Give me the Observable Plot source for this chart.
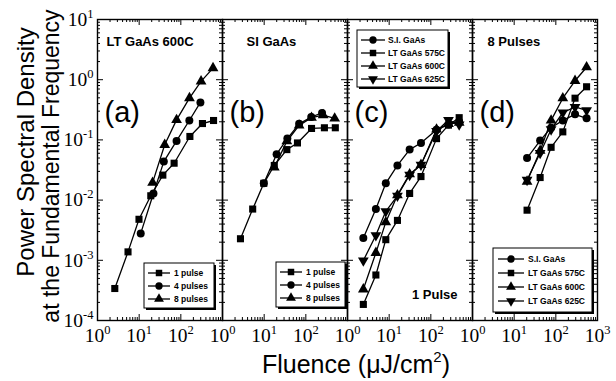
<!DOCTYPE html>
<html><head><meta charset="utf-8">
<script src="https://cdn.jsdelivr.net/npm/d3@7"></script>
<script src="https://cdn.jsdelivr.net/npm/@observablehq/plot@0.6"></script>
<style>
body{margin:0;background:#fff}
#chart{position:relative;width:616px;height:381px}
</style>
</head><body><div id="chart"></div>
<script>
// ---- data ----
const panels = ["a", "b", "c", "d"];
const panelLetters = ["(a)", "(b)", "(c)", "(d)"];
const panelTitles = ["LT GaAs 600C", "SI GaAs", "", "8 Pulses"];

// (a) LT GaAs 600C
const aX1 = [2.6, 5.4, 9.9, 19, 37, 69, 165, 330, 610];
const aY1 = [3.4e-4, 1.38e-3, 4.8e-3, 0.0118, 0.026, 0.041, 0.114, 0.187, 0.21];
const aX4 = [10.9, 22, 39, 79, 160, 295];
const aY4 = [2.8e-3, 0.0129, 0.0436, 0.096, 0.21, 0.42];
const aX8 = [21, 41, 79, 161, 306, 592];
const aY8 = [0.0195, 0.083, 0.215, 0.495, 0.94, 1.56];
// (b) SI GaAs
const bX1 = [2.7, 5.3, 9.8, 17.5, 35, 63, 137, 279, 510];
const bY1 = [2.28e-3, 7.1e-3, 0.019, 0.0376, 0.069, 0.089, 0.155, 0.159, 0.159];
const bX4 = [9.8, 19.9, 36, 69, 135, 245];
const bY4 = [0.019, 0.058, 0.105, 0.185, 0.24, 0.28];
const bX8 = [17.5, 35, 69, 137, 260, 492];
const bY8 = [0.035, 0.095, 0.174, 0.234, 0.259, 0.228];
// (c) 1 pulse
const cX = [2.4, 4.8, 8.3, 15.8, 31, 58, 137, 265, 479];
const cSI = [2.34e-3, 7.1e-3, 0.019, 0.0376, 0.069, 0.089, 0.147, 0.18, 0.2];
const c575 = [1.85e-4, 5.7e-4, 2.2e-3, 4.6e-3, 0.0129, 0.0246, 0.105, 0.176, 0.234];
const c600 = [3.3e-4, 1.33e-3, 4.3e-3, 0.0121, 0.027, 0.0386, 0.149, 0.185, 0.193];
const c625 = [9.9e-4, 2.6e-3, 6.5e-3, 0.0118, 0.0262, 0.0386, 0.14, 0.214, 0.18];
// (d) 8 pulses
const dX = [20.4, 42, 77, 147, 289, 547];
const dSI = [0.05, 0.0975, 0.159, 0.211, 0.266, 0.228];
const d575 = [6.8e-3, 0.0237, 0.0753, 0.136, 0.493, 0.763];
const d600 = [0.0203, 0.066, 0.211, 0.493, 0.96, 1.61];
const d625 = [0.0216, 0.0605, 0.149, 0.284, 0.352, 0.31];

const pulseSeries = ["1 pulse", "4 pulses", "8 pulses"];
const sampleSeries = ["S.I. GaAs", "LT GaAs 575C", "LT GaAs 600C", "LT GaAs 625C"];

const xTickVals = [1, 10, 100, 1000];
const xTickLabels = ["10^0", "10^1", "10^2", "10^3"];
const yTickVals = [1e-4, 1e-3, 1e-2, 1e-1, 1, 10];
const yTickLabels = ["10^-4", "10^-3", "10^-2", "10^-1", "10^0", "10^1"];

// ---- build tables ----
function series(panel, name, xs, ys) { return xs.map((x, i) => ({panel, series: name, x, y: ys[i]})); }
const rows = [
  ...series("a", pulseSeries[0], aX1, aY1), ...series("a", pulseSeries[1], aX4, aY4), ...series("a", pulseSeries[2], aX8, aY8),
  ...series("b", pulseSeries[0], bX1, bY1), ...series("b", pulseSeries[1], bX4, bY4), ...series("b", pulseSeries[2], bX8, bY8),
  ...series("c", sampleSeries[0], cX, cSI), ...series("c", sampleSeries[1], cX, c575), ...series("c", sampleSeries[2], cX, c600), ...series("c", sampleSeries[3], cX, c625),
  ...series("d", sampleSeries[0], dX, dSI), ...series("d", sampleSeries[1], dX, d575), ...series("d", sampleSeries[2], dX, d600), ...series("d", sampleSeries[3], dX, d625)
];
const down = {draw(ctx, size) {
  const s3 = Math.sqrt(3), y = -Math.sqrt(size / (s3 * 3));
  ctx.moveTo(0, -y * 2); ctx.lineTo(-s3 * y, y); ctx.lineTo(s3 * y, y); ctx.closePath();
}};
const symbolOf = {"1 pulse": "square", "4 pulses": "circle", "8 pulses": "triangle",
  "S.I. GaAs": "circle", "LT GaAs 575C": "square", "LT GaAs 600C": "triangle", "LT GaAs 625C": down};

const xLab = [];
panels.forEach(p => xTickVals.forEach((v, i) => { if (v < 1000 || p === "d") xLab.push({panel: p, v, label: xTickLabels[i]}); }));
const yLab = yTickVals.map((v, i) => ({panel: "a", v, label: yTickLabels[i]}));
const xMinor = [], yMinor = [];
[1, 10, 100].forEach(d => { for (let k = 2; k <= 9; k++) xMinor.push(d * k); });
[1e-4, 1e-3, 1e-2, 1e-1, 1].forEach(d => { for (let k = 2; k <= 9; k++) yMinor.push(d * k); });
const letterRows = panels.map((p, i) => ({panel: p, t: panelLetters[i]}));
const titleRows = panels.map((p, i) => ({panel: p, t: panelTitles[i]}));

const W = 616, H = 381, mL = 97, mR = 19, mT = 19, mB = 61;
const innerH = H - mT - mB, facetW = (W - mL - mR) / 4;
const sans = "'Liberation Sans', Arial, Helvetica, sans-serif";
const serif = "'Liberation Serif', 'Times New Roman', serif";

const dotMarks = ["square", "circle", "triangle", down].map(k =>
  Plot.dot(rows.filter(d => symbolOf[d.series] === k), {fx: "panel", x: "x", y: "y", symbol: k, r: 4, fill: "#000", stroke: "none"}));
const titleOffsets = {a: 9, b: 24, d: 15};
const titleMarks = Object.keys(titleOffsets).map(p =>
  Plot.text(titleRows.filter(d => d.panel === p), {fx: "panel", text: "t", frameAnchor: "top-left", dx: titleOffsets[p], dy: 26, lineAnchor: "bottom", textAnchor: "start", fontSize: 13, fontWeight: "bold"}));

const chart = Plot.plot({
  width: W, height: H, marginLeft: mL, marginRight: mR, marginTop: mT, marginBottom: mB,
  style: {fontFamily: sans, background: "#fff", color: "#000"},
  fx: {domain: panels, padding: 0, axis: null},
  x: {type: "log", domain: [1, 1000], axis: null},
  y: {type: "log", domain: [1e-4, 10], axis: null},
  marks: [
    // inward ticks
    Plot.tickX(xTickVals, {x: d => d, insetTop: innerH - 6, stroke: "#000"}),
    Plot.tickX(xTickVals, {x: d => d, insetBottom: innerH - 6, stroke: "#000"}),
    Plot.tickX(xMinor, {x: d => d, insetTop: innerH - 3, stroke: "#000"}),
    Plot.tickX(xMinor, {x: d => d, insetBottom: innerH - 3, stroke: "#000"}),
    Plot.tickY(yTickVals, {y: d => d, insetRight: facetW - 6, stroke: "#000"}),
    Plot.tickY(yTickVals, {y: d => d, insetLeft: facetW - 6, stroke: "#000"}),
    Plot.tickY(yMinor, {y: d => d, insetRight: facetW - 3, stroke: "#000"}),
    Plot.tickY(yMinor, {y: d => d, insetLeft: facetW - 3, stroke: "#000"}),
    Plot.frame({stroke: "#000", strokeWidth: 1.4}),
    Plot.line(rows, {fx: "panel", x: "x", y: "y", z: "series", stroke: "#000", strokeWidth: 1.3}),
    ...dotMarks,
    Plot.text(xLab, {fx: "panel", x: "v", text: "label", frameAnchor: "bottom", dy: 21, fontSize: 19.5, fontFamily: serif}),
    Plot.text(yLab, {fx: "panel", y: "v", text: "label", frameAnchor: "left", dx: -4, textAnchor: "end", fontSize: 19.5, fontFamily: serif}),
    Plot.text(letterRows, {fx: "panel", text: "t", frameAnchor: "top-left", dx: 7, dy: 102, lineAnchor: "bottom", textAnchor: "start", fontSize: 29}),
    ...titleMarks,
    Plot.text([{panel: "c", t: "1 Pulse"}], {fx: "panel", text: "t", frameAnchor: "bottom-right", dx: -15, dy: -22, lineAnchor: "bottom", textAnchor: "end", fontSize: 13, fontWeight: "bold"})
  ]
});
document.getElementById("chart").appendChild(chart);

const svgns = "http://www.w3.org/2000/svg";
const svg = d3.select(chart);
chart.querySelectorAll("text").forEach(el => {
  if (el.children.length || !el.textContent.includes("^")) return;
  const [base, sup] = el.textContent.split("^");
  el.textContent = base;
  const ts = document.createElementNS(svgns, "tspan");
  ts.setAttribute("dy", "-8");
  ts.setAttribute("font-size", "12.5");
  ts.textContent = sup;
  el.appendChild(ts);
});

// axis titles
const yt = svg.append("g").attr("font-family", sans).attr("text-anchor", "middle").attr("fill", "#000");
yt.append("text").attr("font-size", 24).attr("transform", "translate(34,152) rotate(-90)").text("Power Spectral Density");
yt.append("text").attr("font-size", 23).attr("transform", "translate(59,166) rotate(-90)").text("at the Fundamental Frequency");
const xt = svg.append("text").attr("x", 356).attr("y", 373).attr("font-family", sans).attr("font-size", 25).attr("text-anchor", "middle").attr("fill", "#000");
xt.append("tspan").text("Fluence (\u03bcJ/cm");
xt.append("tspan").attr("dy", -11).attr("font-size", 15).text("2");
xt.append("tspan").attr("dy", 11).text(")");

// legends
function legend(x, y, w, h, names, rowStart, rowStep, lineX0, lineX1, textX) {
  const g = svg.append("g").attr("font-family", sans).attr("font-size", 8.5).attr("font-weight", "bold").attr("text-anchor", "start").attr("fill", "#000");
  g.append("rect").attr("x", x + 2).attr("y", y + 2).attr("width", w).attr("height", h).attr("fill", "#000");
  g.append("rect").attr("x", x).attr("y", y).attr("width", w).attr("height", h).attr("fill", "#fff").attr("stroke", "#000").attr("stroke-width", 1);
  names.forEach((n, i) => {
    const yy = y + rowStart + i * rowStep;
    g.append("line").attr("x1", x + lineX0).attr("x2", x + lineX1).attr("y1", yy).attr("y2", yy).attr("stroke", "#000").attr("stroke-width", 1.3);
    const s = symbolOf[n];
    const type = s === "square" ? d3.symbolSquare : s === "circle" ? d3.symbolCircle : s === "triangle" ? d3.symbolTriangle : down;
    g.append("path").attr("d", d3.symbol(type, 42)).attr("transform", `translate(${x + (lineX0 + lineX1) / 2},${yy})`).attr("fill", "#000");
    g.append("text").attr("x", x + textX).attr("y", yy + 3).text(n);
  });
}
legend(144, 263, 70, 45, pulseSeries, 10, 13, 4, 26, 30);
legend(276, 262, 69, 45, pulseSeries, 10, 13, 4, 26, 30);
legend(357, 30, 91, 57, sampleSeries, 10, 13, 4, 28, 31);
legend(493, 248, 99, 64, sampleSeries, 11, 14, 5, 31, 35);
</script></body></html>
